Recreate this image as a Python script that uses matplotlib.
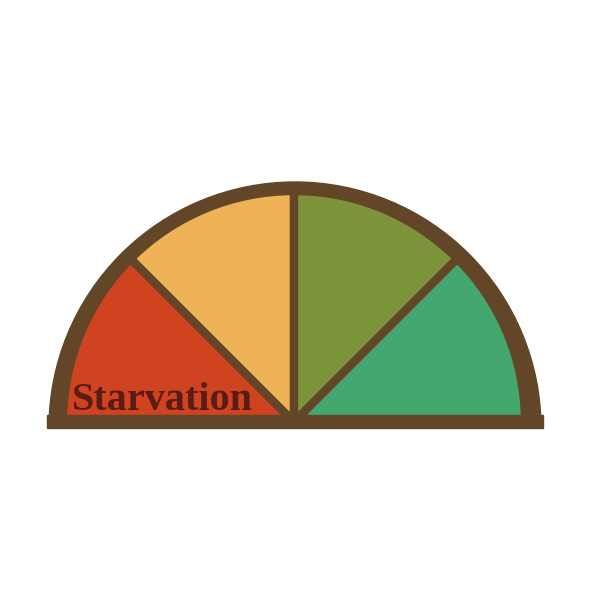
import matplotlib

matplotlib.use("Agg")
import matplotlib.patches as mpatches
import matplotlib.pyplot as plt

# ── Data ──
segments = ["Starvation", "Hungry", "Satisfied", "Full"]
shares = [1, 1, 1, 1]
hidden = [4]  # lower half of the dial, not drawn
colors = ["#D04321", "#EFB256", "#7E943C", "#43A76E"]
label = "Starvation"

BROWN = "#634527"
TEXT = "#5A1C14"

fig = plt.figure(figsize=(6, 6), dpi=100)
ax = fig.add_axes([0, 0, 1, 1])

# outer brown dial
ax.add_patch(mpatches.Wedge((295, 172), 246, 0, 180, color=BROWN, zorder=1))

# coloured sectors (half pie)
wedges, _ = ax.pie(shares + hidden, colors=colors + ["none"], startangle=180,
                   counterclock=False, center=(294, 178), radius=231, frame=True,
                   wedgeprops=dict(edgecolor=BROWN, linewidth=6, joinstyle="bevel"))
wedges[-1].set_edgecolor("none")
for w in wedges:
    w.set_zorder(2)

# base bar
ax.add_patch(mpatches.Rectangle((47, 172), 496, 13, color=BROWN, zorder=3))

ax.text(72, 190, label, ha="left", va="baseline", fontsize=29,
        family=["Liberation Serif", "DejaVu Serif"],
        fontweight="bold", color=TEXT, zorder=4)

ax.set_xlim(0, 600)
ax.set_ylim(0, 600)
ax.set_aspect("equal")
ax.axis("off")
fig.savefig("out.png", dpi=100, facecolor="white")
